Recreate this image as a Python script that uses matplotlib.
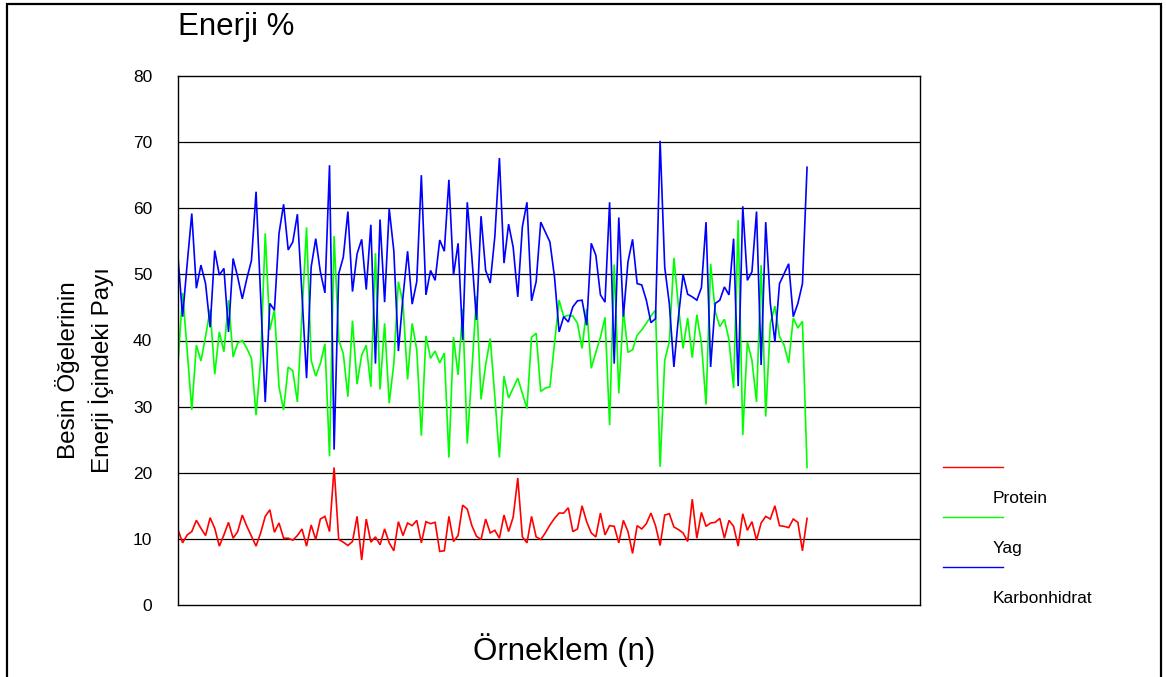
import matplotlib
matplotlib.use("Agg")
import matplotlib.pyplot as plt
from matplotlib.lines import Line2D
from matplotlib.patches import Rectangle
import numpy as np

plt.rcParams["font.family"] = ["Liberation Sans", "DejaVu Sans"]

# values, left to right (n = 1..138)
protein = [
    11.4, 9.4, 10.6, 11.1, 12.8, 11.6, 10.5, 13.2, 11.6, 8.9, 10.6, 12.5, 10.1, 11.1,
    13.6, 11.9, 10.4, 8.9, 10.9, 13.4, 14.4, 11.0, 12.4, 10.1, 10.1, 9.8, 10.5, 11.5,
    8.9, 12.1, 9.9, 13.0, 13.4, 11.1, 20.8, 9.9, 9.5, 9.0, 9.6, 13.4, 6.8, 13.0,
    9.5, 10.3, 9.1, 11.5, 9.4, 8.2, 12.6, 10.5, 12.4, 12.0, 12.8, 9.4, 12.6,
    12.3, 12.5, 8.1, 8.2, 13.4, 9.6, 10.5, 15.1, 14.5, 12.0, 10.4, 9.9, 13.0, 10.9,
    11.3, 10.1, 13.6, 11.1, 13.3, 19.2, 10.3, 9.4, 13.4, 10.3, 9.9, 10.9, 12.1,
    13.1, 13.9, 13.9, 14.7, 11.1, 11.5, 15.0, 12.6, 10.9, 10.3, 13.9, 10.6, 12.0,
    11.9, 9.4, 12.8, 11.1, 7.8, 12.0, 11.5, 12.3, 13.9, 12.0, 9.0, 13.6, 13.8, 11.8,
    11.4, 10.9, 9.6, 16.0, 10.1, 14.0, 11.9, 12.4, 12.5, 13.1, 10.1, 12.8, 11.9, 8.9,
    13.8, 11.3, 12.6, 9.8, 12.4, 13.4, 13.0, 15.0, 12.0, 11.9, 11.7, 13.0, 12.5, 8.2,
    13.1,
]
yag = [
    36.5, 47.2, 38.5, 29.5, 39.3, 36.9, 40.6, 44.7, 34.9, 41.3, 38.3, 46.1, 37.5, 39.6,
    40.0, 38.8, 37.3, 28.7, 37.0, 56.2, 41.6, 44.6, 33.0, 29.5, 36.0, 35.4, 30.7, 44.0,
    57.1, 37.0, 34.6, 36.5, 39.5, 22.5, 55.8, 40.1, 38.0, 31.5, 43.0, 33.4, 37.8, 39.3,
    33.0, 53.2, 32.6, 42.6, 30.5, 36.5, 48.9, 45.6, 34.1, 42.6, 38.6, 25.6, 40.7,
    37.3, 38.4, 36.6, 38.1, 22.3, 40.5, 34.8, 44.8, 24.4, 35.4, 46.7, 31.1, 36.3, 40.3,
    31.5, 22.3, 34.6, 31.3, 32.8, 34.3, 32.0, 29.7, 40.5, 41.1, 32.3, 32.8, 33.0,
    39.6, 46.1, 43.6, 43.8, 43.7, 42.6, 38.8, 44.8, 35.8, 38.2, 40.5, 43.5, 27.2, 51.5,
    32.0, 44.6, 38.2, 38.6, 40.8, 41.6, 42.6, 43.7, 44.6, 20.9, 37.0, 39.8, 52.5,
    45.1, 38.8, 43.4, 37.4, 43.9, 39.6, 30.3, 51.6, 44.4, 42.1, 43.2, 40.1, 32.8, 58.2,
    25.7, 39.8, 37.0, 30.7, 51.4, 28.5, 42.6, 45.2, 40.6, 39.3, 36.6, 43.4, 41.9, 42.9,
    20.8,
]
karbonhidrat = [
    52.6, 43.6, 51.6, 59.2, 47.9, 51.4, 48.6, 42.0, 53.6, 49.9, 50.9, 41.3, 52.4, 49.6,
    46.3, 49.4, 52.1, 62.5, 46.6, 30.7, 45.6, 44.6, 56.2, 60.6, 53.7, 54.9, 59.1, 47.0,
    34.3, 51.1, 55.4, 50.4, 47.2, 66.5, 23.5, 50.1, 52.6, 59.5, 47.4, 53.1, 55.3, 47.7,
    57.5, 36.5, 58.3, 45.8, 59.9, 53.6, 38.4, 46.6, 53.5, 45.5, 48.9, 65.0, 46.9,
    50.6, 49.1, 55.2, 53.5, 64.3, 49.9, 54.7, 40.1, 60.9, 52.6, 43.1, 58.8, 50.6, 48.7,
    55.7, 67.6, 51.7, 57.6, 54.1, 46.6, 57.2, 60.9, 46.0, 48.9, 57.9, 56.4, 54.9,
    49.6, 41.3, 43.6, 42.8, 45.1, 46.0, 46.1, 42.3, 54.7, 52.9, 46.9, 45.8, 60.9, 36.5,
    58.6, 43.6, 51.9, 55.3, 48.6, 48.4, 46.1, 42.7, 43.3, 70.2, 51.1, 45.6, 36.0,
    43.6, 50.0, 47.0, 46.6, 46.1, 48.0, 57.9, 36.0, 45.6, 46.1, 48.1, 46.9, 55.4, 33.1,
    60.3, 49.1, 50.4, 59.5, 36.3, 57.9, 45.6, 39.8, 48.6, 50.1, 51.6, 43.6, 45.6, 48.6,
    66.2,
]
legend_labels = ["Protein", "Yag", "Karbonhidrat"]
colors = ["#ff0000", "#00ff00", "#0000ff"]
yticks = [0, 10, 20, 30, 40, 50, 60, 70, 80]

W, H = 1166, 677
fig = plt.figure(figsize=(W / 100, H / 100), dpi=100)
ax = fig.add_axes([178 / W, 1 - 605 / H, (920 - 178) / W, (605 - 76) / H])

n = np.arange(len(protein))
for vals, c in zip([protein, yag, karbonhidrat], colors):
    ax.plot(n, vals, color=c, lw=1.2, solid_joinstyle="miter")

ax.set_xlim(0, 161.6)
ax.set_ylim(0, 80)
ax.set_yticks(yticks)
ax.set_xticks([])
ax.tick_params(axis="y", length=0, pad=18.5, labelsize=12.5)
for y in yticks[1:-1]:
    ax.axhline(y, color="black", lw=0.9, zorder=0)
for s in ax.spines.values():
    s.set_color("black")
    s.set_linewidth(1.0)

fig.text(178 / W, 1 - 35 / H, "Enerji %", fontsize=22.5, ha="left", va="baseline")
fig.text(564 / W, 1 - 660 / H, "Örneklem (n)", fontsize=22.5, ha="center", va="baseline")
fig.text(67 / W, 1 - 370 / H, "Besin Öğelerinin", fontsize=17.5, rotation=90,
         ha="center", va="center")
fig.text(101 / W, 1 - 370 / H, "Enerji İçindeki Payı", fontsize=17.5, rotation=90,
         ha="center", va="center")

# legend as drawn in the source: lines sit above their labels
for i, (lab, c) in enumerate(zip(legend_labels, colors)):
    ly = 1 - (467 + 50 * i) / H
    fig.add_artist(Line2D([943 / W, 1003 / W], [ly, ly], color=c, lw=1.0))
    fig.text(993 / W, 1 - (503 + 50 * i) / H, lab, fontsize=12.5, ha="left", va="baseline")

# outer frame
fig.add_artist(Rectangle((7 / W, -0.05), (1161 - 7) / W, 1.05 - 4.5 / H,
                         transform=fig.transFigure, fill=False, ec="black", lw=1.6))

fig.savefig("out.png", dpi=100)
